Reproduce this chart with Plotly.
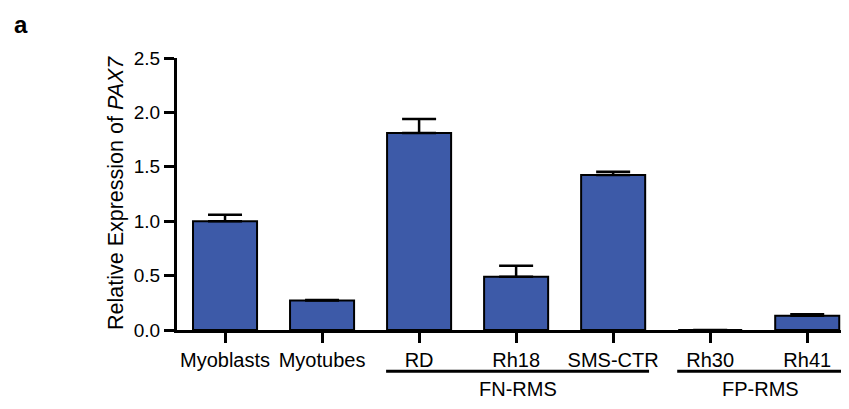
import plotly.graph_objects as go

categories = ["Myoblasts", "Myotubes", "RD", "Rh18", "SMS-CTR", "Rh30", "Rh41"]
values = [1.00, 0.27, 1.81, 0.49, 1.425, 0.0, 0.13]
errors = [0.06, 0.005, 0.13, 0.10, 0.03, 0.0, 0.015]
y_ticks = [0.0, 0.5, 1.0, 1.5, 2.0, 2.5]
groups = [("FN-RMS", 2, 4), ("FP-RMS", 5, 6)]

BAR = "#3D5AA8"
FONT = "Liberation Sans, Arial, sans-serif"

fig = go.Figure()
fig.add_trace(go.Bar(
    x=list(range(len(categories))), y=values, width=0.66,
    marker=dict(color=BAR, line=dict(color="black", width=2)),
    error_y=dict(type="data", symmetric=False, array=errors,
                 arrayminus=[0] * len(errors), color="black",
                 thickness=2.5, width=17),
))

shapes = []
annotations = []
for name, a, b in groups:
    x0 = a - 0.34
    x1 = b + 0.37
    shapes.append(dict(type="line", xref="x", yref="paper", x0=x0, x1=x1,
                       y0=-0.152, y1=-0.152, line=dict(color="black", width=3)))
    annotations.append(dict(text=name, xref="x", yref="paper", x=(x0 + x1) / 2,
                            y=-0.218, showarrow=False, xanchor="center", yanchor="middle",
                            font=dict(size=20, family=FONT, color="black")))

annotations.append(dict(text="Relative Expression of <i>PAX7</i>", xref="paper", yref="paper",
                        x=-0.092, y=0.505, textangle=-90, showarrow=False,
                        xanchor="center", yanchor="middle",
                        font=dict(size=21.5, family=FONT, color="black")))
annotations.append(dict(text="<b>a</b>", xref="paper", yref="paper",
                        x=-0.233, y=1.18, showarrow=False,
                        xanchor="center", yanchor="top",
                        font=dict(size=24, family=FONT, color="black")))

# the page body has an 8px margin, so the figure is sized/offset to compensate
fig.update_layout(
    width=841, height=401,
    margin=dict(l=169, r=2, t=50, b=79),
    plot_bgcolor="white", paper_bgcolor="white",
    showlegend=False,
    shapes=shapes, annotations=annotations,
    font=dict(family=FONT, color="black"),
    xaxis=dict(range=[-0.495, 6.41], tickmode="array",
               tickvals=list(range(len(categories))), ticktext=categories,
               showline=True, linecolor="black", linewidth=3,
               ticks="outside", ticklen=10, tickwidth=3, tickcolor="black",
               showgrid=False, zeroline=False,
               tickfont=dict(size=20, family=FONT, color="black")),
    yaxis=dict(range=[0, 2.5], tickmode="array", tickvals=y_ticks,
               ticktext=[f"{v:.1f}" for v in y_ticks],
               showline=True, linecolor="black", linewidth=3,
               ticks="outside", ticklen=10, tickwidth=3, tickcolor="black",
               showgrid=False, zeroline=False,
               tickfont=dict(size=19, family=FONT, color="black")),
)

fig.write_html("out.html")
